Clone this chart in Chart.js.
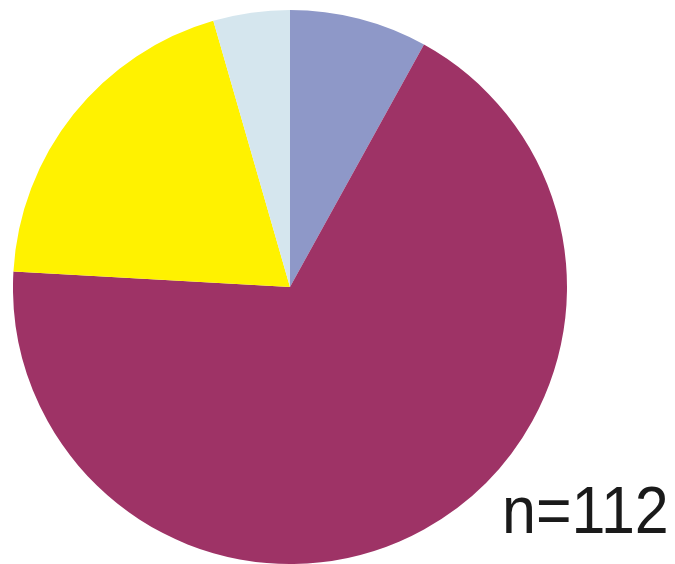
<!DOCTYPE html>
<html>
<head>
<meta charset="utf-8">
<script src="https://cdn.jsdelivr.net/npm/chart.js@4.4.0/dist/chart.umd.min.js"></script>
<style>
  html, body { margin: 0; padding: 0; background: #ffffff; width: 675px; height: 564px; overflow: hidden; }
  #wrap { position: absolute; left: 13px; top: 10px; width: 554px; height: 554px; }
  #note { position: absolute; left: 502px; top: 472px; font-family: "Liberation Sans", Arial, sans-serif;
          font-size: 61px; color: #1a1a1a; transform: scaleY(1.09); transform-origin: left top; white-space: nowrap; }
</style>
</head>
<body>
<div id="wrap"><canvas id="c" width="554" height="554"></canvas></div>
<div id="note">n=112</div>
<script>
const categories = ["A", "B", "C", "D"];
const counts = [9, 76, 22, 5];
const colors = ["#8e98c8", "#9e3366", "#fff200", "#d5e6ee"];

new Chart(document.getElementById("c"), {
  type: "pie",
  data: {
    labels: categories,
    datasets: [{ data: counts, backgroundColor: colors, borderWidth: 0, hoverOffset: 0 }]
  },
  options: {
    responsive: false,
    animation: false,
    layout: { padding: 0 },
    plugins: { legend: { display: false }, tooltip: { enabled: false } }
  }
});
</script>
</body>
</html>
